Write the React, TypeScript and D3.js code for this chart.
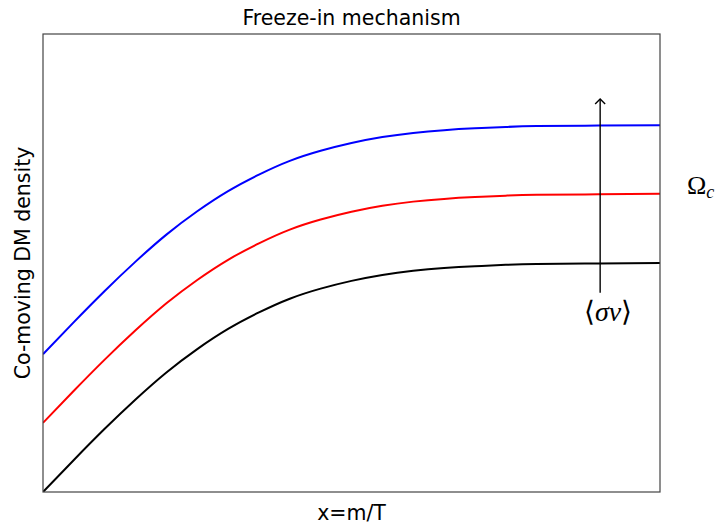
import React from "react";
import * as d3 from "d3";

// x = m/T sample points
const xValues = [0, 0.5, 1, 1.5, 2, 2.5, 3, 3.5, 4, 4.5, 5, 5.5, 6, 6.5, 7, 7.5, 8, 9, 10];

// co-moving dark-matter density for three cross sections
const densityLow = [0, 0.07, 0.138, 0.202, 0.261, 0.312, 0.356, 0.392, 0.422, 0.444, 0.461, 0.474, 0.483, 0.489, 0.493, 0.496, 0.498, 0.499, 0.5];
const densityMid = [0.151, 0.221, 0.289, 0.353, 0.412, 0.463, 0.507, 0.543, 0.573, 0.595, 0.612, 0.625, 0.634, 0.64, 0.644, 0.647, 0.649, 0.65, 0.651];
const densityHigh = [0.301, 0.371, 0.439, 0.503, 0.562, 0.613, 0.657, 0.693, 0.723, 0.745, 0.762, 0.775, 0.784, 0.79, 0.794, 0.797, 0.799, 0.8, 0.801];

const seriesColors = ["#000000", "#ff0000", "#0000ff"];

// arrow marking increasing <σv>
const arrowX = 9.03;
const arrowFrom = 0.435;
const arrowTo = 0.858;

const W = 716;
const H = 526;
const margin = { left: 43, right: 56, top: 34, bottom: 34 };

export default function App() {
  const x = d3.scaleLinear().domain([0, 10]).range([margin.left, W - margin.right]);
  const y = d3.scaleLinear().domain([0, 1]).range([H - margin.bottom, margin.top]);

  const line = d3
    .line<[number, number]>()
    .x((d) => x(d[0]))
    .y((d) => y(d[1]))
    .curve(d3.curveNatural);

  const series = [densityLow, densityMid, densityHigh];

  const ax = x(arrowX);
  const ay0 = y(arrowFrom);
  const ay1 = y(arrowTo);

  const font = "'DejaVu Sans', sans-serif";
  const plotW = W - margin.left - margin.right;
  const plotH = H - margin.top - margin.bottom;

  return (
    <svg
      width={W}
      height={H}
      style={{ position: "absolute", left: 0, top: 0, background: "#fff" }}
    >
      <rect x={0} y={0} width={W} height={H} fill="#fff" />
      <defs>
        <clipPath id="plot-area">
          <rect x={margin.left} y={margin.top} width={plotW} height={plotH} />
        </clipPath>
      </defs>
      <g clipPath="url(#plot-area)">
        {series.map((s, i) => (
          <path
            key={i}
            d={line(xValues.map((v, j) => [v, s[j]] as [number, number])) || ""}
            fill="none"
            stroke={seriesColors[i]}
            strokeWidth={2}
          />
        ))}
      </g>
      {/* arrow */}
      <line x1={ax} x2={ax} y1={ay0} y2={ay1} stroke="#000" strokeWidth={1.4} />
      <path
        d={`M${ax - 5},${ay1 + 5} L${ax},${ay1} L${ax + 5},${ay1 + 5}`}
        fill="none"
        stroke="#000"
        strokeWidth={1.4}
      />
      <text
        x={ax + 8}
        y={321}
        textAnchor="middle"
        fontFamily="'Liberation Serif', serif"
        fontSize={28}
        fill="#000"
      >
        ⟨<tspan fontStyle="italic">σv</tspan>⟩
      </text>
      <text
        x={687}
        y={194}
        fontFamily="'Liberation Serif', serif"
        fontSize={26}
        fill="#000"
      >
        Ω
        <tspan fontStyle="italic" fontSize={18} dy={4}>
          c
        </tspan>
      </text>
      {/* frame */}
      <rect
        x={margin.left}
        y={margin.top}
        width={plotW}
        height={plotH}
        fill="none"
        stroke="#444"
        strokeWidth={1.2}
      />
      <text x={margin.left + plotW / 2} y={25} textAnchor="middle" fontFamily={font} fontSize={20.5} fill="#000">
        Freeze-in mechanism
      </text>
      <text x={margin.left + plotW / 2} y={520} textAnchor="middle" fontFamily={font} fontSize={20.5} fill="#000">
        x=m/T
      </text>
      <text
        transform={`translate(30,${margin.top + plotH / 2}) rotate(-90)`}
        textAnchor="middle"
        fontFamily={font}
        fontSize={20.5}
        fill="#000"
      >
        Co-moving DM density
      </text>
    </svg>
  );
}
